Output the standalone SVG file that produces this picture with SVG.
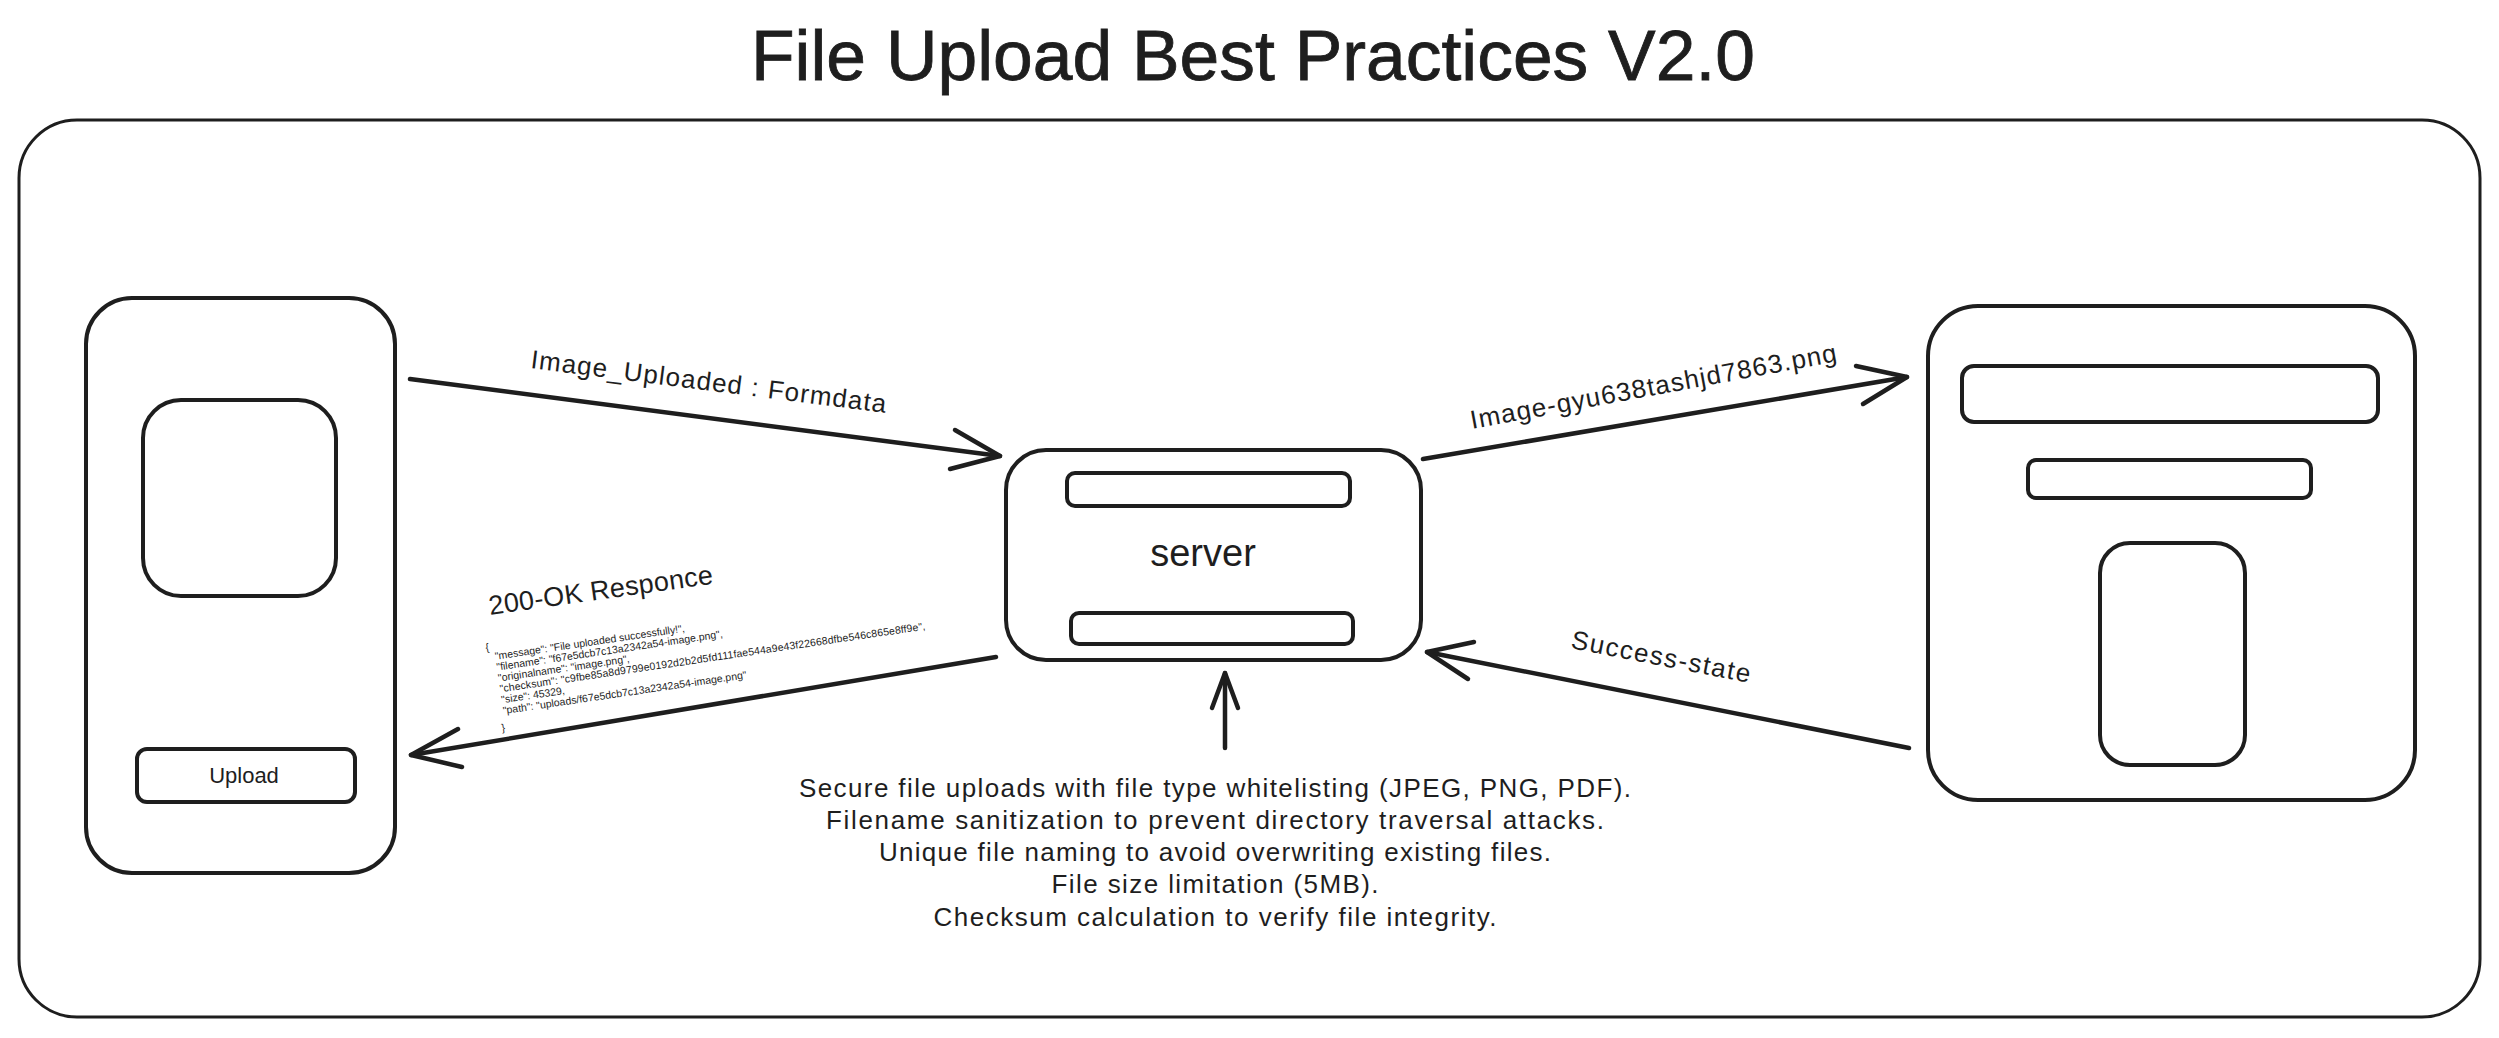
<svg xmlns="http://www.w3.org/2000/svg" width="2499" height="1038" viewBox="0 0 2499 1038">
  <style>
    .box { fill: #ffffff; stroke: #1e1e1e; stroke-width: 4; }
    .thin { stroke-width: 3; }
    .conn { fill: none; stroke: #1e1e1e; stroke-width: 4.5; stroke-linecap: round; stroke-linejoin: round; }
    .txt { font-family: "Liberation Sans", "DejaVu Sans", sans-serif; fill: #1e1e1e; }
    .mono { font-family: "Liberation Sans", "DejaVu Sans", sans-serif; fill: #1e1e1e; font-size: 10.5px; }
  </style>
  <rect x="0" y="0" width="2499" height="1038" fill="#ffffff"/>

  <text id="title" class="txt" x="1253" y="80" font-size="70" text-anchor="middle" textLength="1004" lengthAdjust="spacingAndGlyphs" stroke="#1e1e1e" stroke-width="0.8">File Upload Best Practices V2.0</text>

  <g id="frame">
    <rect class="box thin" x="19" y="120" width="2461" height="897" rx="58" ry="58"/>
  </g>

  <g id="client">
    <rect class="box" x="86" y="298" width="309" height="575" rx="46" ry="46"/>
    <rect class="box" x="143" y="400" width="193" height="196" rx="38" ry="38"/>
    <g id="upload-button">
      <rect class="box" x="137" y="749" width="218" height="53" rx="10" ry="10"/>
      <text class="txt" x="244" y="783" font-size="22" text-anchor="middle">Upload</text>
    </g>
  </g>

  <g id="server">
    <rect class="box" x="1006" y="450" width="415" height="210" rx="40" ry="40"/>
    <rect class="box" x="1067" y="473" width="283" height="33" rx="8" ry="8"/>
    <rect class="box" x="1071" y="613" width="282" height="31" rx="8" ry="8"/>
    <text class="txt" x="1203" y="566" font-size="38" text-anchor="middle">server</text>
  </g>

  <g id="storage">
    <rect class="box" x="1928" y="306" width="487" height="494" rx="50" ry="50"/>
    <rect class="box" x="1962" y="366" width="416" height="56" rx="12" ry="12"/>
    <rect class="box" x="2028" y="460" width="283" height="38" rx="8" ry="8"/>
    <rect class="box" x="2100" y="543" width="145" height="222" rx="30" ry="30"/>
  </g>

  <g id="connectors">
    <g id="arrow-upload">
      <path class="conn" d="M410 379 L1000 456"/>
      <path class="conn" d="M955 430 L1000 456 L950 469"/>
      <text class="txt" font-size="26" transform="translate(530 368) rotate(7.2)" textLength="358">Image_Uploaded : Formdata</text>
    </g>
    <g id="arrow-store">
      <path class="conn" d="M1423 459 L1907 377"/>
      <path class="conn" d="M1856 366 L1907 377 L1863 404"/>
      <text class="txt" font-size="26" transform="translate(1472 429) rotate(-10.5)" textLength="372">Image-gyu638tashjd7863.png</text>
    </g>
    <g id="arrow-response">
      <path class="conn" d="M996 657 L411 755"/>
      <path class="conn" d="M458 729 L411 755 L462 767"/>
      <text class="txt" font-size="27" transform="translate(490 615) rotate(-8)" textLength="226">200-OK Responce</text>
      <g transform="translate(486 651) rotate(-8.4)">
        <text class="mono" x="0" y="0">{</text>
        <text class="mono" x="8" y="10">"message": "File uploaded successfully!",</text>
        <text class="mono" x="8" y="21">"filename": "f67e5dcb7c13a2342a54-image.png",</text>
        <text class="mono" x="8" y="32">"originalname": "image.png",</text>
        <text class="mono" x="8" y="43" textLength="430">"checksum": "c9fbe85a8d9799e0192d2b2d5fd111fae544a9e43f22668dfbe546c865e8ff9e",</text>
        <text class="mono" x="8" y="54">"size": 45329,</text>
        <text class="mono" x="8" y="65">"path": "uploads/f67e5dcb7c13a2342a54-image.png"</text>
        <text class="mono" x="4" y="82">}</text>
      </g>
    </g>
    <g id="arrow-success">
      <path class="conn" d="M1909 748 L1427 652"/>
      <path class="conn" d="M1474 642 L1427 652 L1468 679"/>
      <text class="txt" font-size="26" transform="translate(1570 648) rotate(11)" textLength="182">Success-state</text>
    </g>
    <g id="arrow-notes">
      <path class="conn" d="M1225 748 L1225 673"/>
      <path class="conn" d="M1212 708 L1225 673 L1238 708"/>
    </g>
  </g>

  <g id="notes">
    <text class="txt" font-size="26" text-anchor="middle" x="1215" y="797" textLength="832">Secure file uploads with file type whitelisting (JPEG, PNG, PDF).</text>
    <text class="txt" font-size="26" text-anchor="middle" x="1215" y="829" textLength="778">Filename sanitization to prevent directory traversal attacks.</text>
    <text class="txt" font-size="26" text-anchor="middle" x="1215" y="861" textLength="672">Unique file naming to avoid overwriting existing files.</text>
    <text class="txt" font-size="26" text-anchor="middle" x="1215" y="893" textLength="327">File size limitation (5MB).</text>
    <text class="txt" font-size="26" text-anchor="middle" x="1215" y="926" textLength="563">Checksum calculation to verify file integrity.</text>
  </g>
</svg>
